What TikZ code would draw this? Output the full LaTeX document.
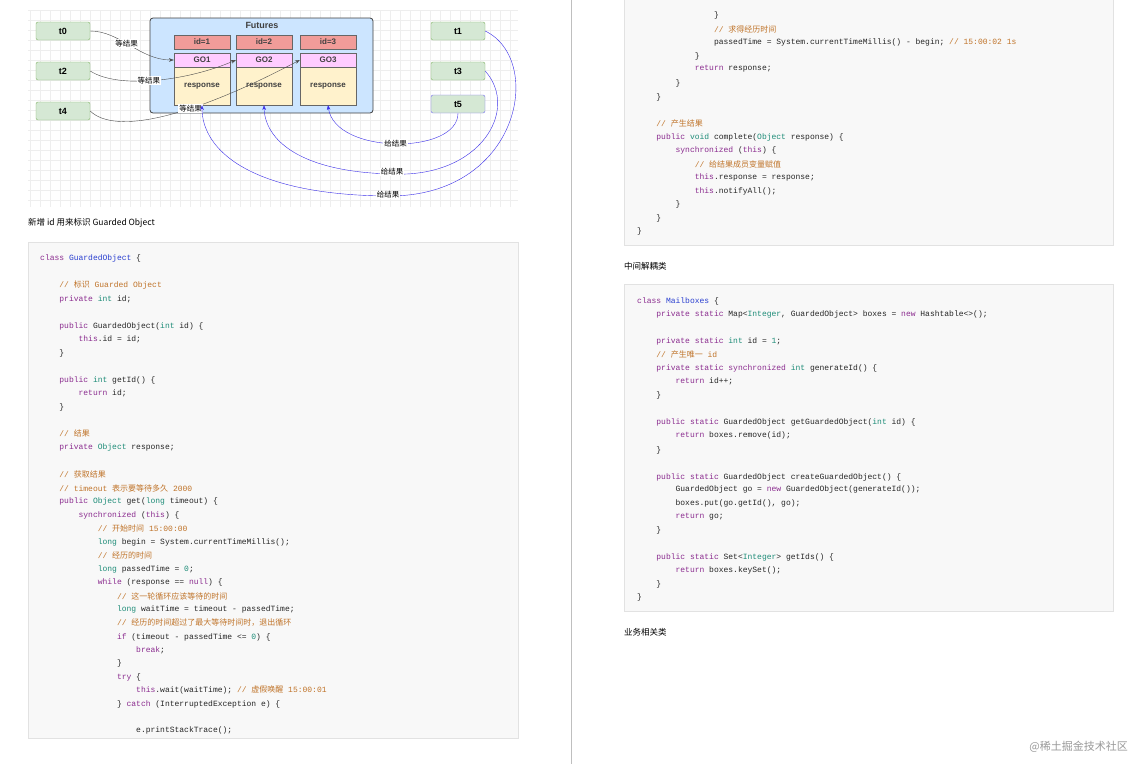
\documentclass[tikz,border=0pt]{standalone}
\usepackage{fontspec}
\setmainfont{Liberation Sans}
\setmonofont{Liberation Mono}
\newfontfamily\cjk{Noto Sans CJK SC}
\usetikzlibrary{arrows.meta}
\definecolor{kwc}{HTML}{8B2C8F}
\definecolor{tyc}{HTML}{1E8C78}
\definecolor{cmc}{HTML}{C0742A}
\definecolor{nmc}{HTML}{2A3FD0}
\definecolor{boxbg}{HTML}{F8F8F8}
\definecolor{boxln}{HTML}{E2E2E2}
\definecolor{gridc}{HTML}{EEEEEE}
\definecolor{futbg}{HTML}{CCE5FF}
\definecolor{idbg}{HTML}{F19C99}
\definecolor{gobg}{HTML}{FFCCFF}
\definecolor{rsbg}{HTML}{FFF2CC}
\definecolor{tbg}{HTML}{D5E8D4}
\definecolor{tln}{HTML}{82B366}
\definecolor{blu}{HTML}{3B2FE8}
\newcommand\kw[1]{\textcolor{kwc}{#1}}
\newcommand\ty[1]{\textcolor{tyc}{#1}}
\newcommand\cmt[1]{\textcolor{cmc}{#1}}
\newcommand\nm[1]{\textcolor{nmc}{#1}}
\newcommand\cn[1]{{\cjk #1}}
\newcommand\cl[5]{\node[code] (#1) at ({#2+19.2*#3},#4) {#5};}
\tikzset{
  code/.style={anchor=west, inner sep=0, text=black!85, font=\ttfamily\fontsize{8}{9}\selectfont},
  caption/.style={anchor=west, inner sep=0, font=\cjk\fontsize{8.5}{10}\selectfont},
  thr/.style={draw=tln, fill=tbg, rounded corners=2, minimum width=54, minimum height=18, inner sep=0, font=\bfseries\fontsize{9}{10}\selectfont},
  cell/.style={draw=black!60, minimum width=56, inner sep=0, font=\bfseries\fontsize{8}{9}\selectfont, text=black!75},
  lbl/.style={fill=white, text=black, inner sep=1, font=\cjk\fontsize{7.5}{8}\selectfont},
  wait/.style={-{Stealth}, black!70, thin},
  give/.style={-{Stealth}, blu, thin}
}
\begin{document}
\begin{tikzpicture}[x=1pt, y=-1pt]
\useasboundingbox (0,0) rectangle (1133,764);
\fill[white] (0,0) rectangle (1133,764);
% diagram
\foreach \gx in {30,40,...,510} \draw[gridc] (\gx,10) -- (\gx,207);
\foreach \gy in {10,20,...,200} \draw[gridc] (28,\gy) -- (518,\gy);
\node (futures) [draw=black!75, fill=futbg, rounded corners=3, thick, minimum width=223, minimum height=95, inner sep=0] at (261.5,65.5) {};
\node (title) [font=\bfseries\fontsize{9}{10}\selectfont, text=black!75] at (262,25) {Futures};
\node (id1) [cell, fill=idbg, minimum height=14] at (202,42) {id=1};
\node (id2) [cell, fill=idbg, minimum height=14] at (264,42) {id=2};
\node (id3) [cell, fill=idbg, minimum height=14] at (328,42) {id=3};
\node (go1) [cell, fill=gobg, minimum height=14] at (202,60) {GO1};
\node (go2) [cell, fill=gobg, minimum height=14] at (264,60) {GO2};
\node (go3) [cell, fill=gobg, minimum height=14] at (328,60) {GO3};
\node (r1) [cell, fill=rsbg, minimum height=38] at (202,86) {response};
\node (r2) [cell, fill=rsbg, minimum height=38] at (264,86) {response};
\node (r3) [cell, fill=rsbg, minimum height=38] at (328,86) {response};
\node (t0) [thr] at (63,31) {t0};
\node (t2) [thr] at (63,71) {t2};
\node (t4) [thr] at (63,111) {t4};
\node (t1) [thr] at (458,31) {t1};
\node (t3) [thr] at (458,71) {t3};
\node (t5) [thr, draw=blu!70] at (458,104) {t5};
\draw[wait] (t0.east) .. controls (120,31) and (140,60) .. node[lbl, pos=0.45] {等结果} (go1.west);
\draw[wait] (t2.east) .. controls (120,90) and (190,80) .. node[lbl, pos=0.45] {等结果} (go2.west);
\draw[wait] (t4.east) .. controls (115,135) and (190,118) .. node[lbl, pos=0.62] {等结果} (go3.west);
\draw[give] (t5.south) .. controls (458,155) and (335,155) .. node[lbl, pos=0.5] {给结果} (r3.south);
\draw[give] (t3.east) .. controls (520,110) and (480,178) .. (392,174) .. controls (300,172) and (265,140) .. (r2.south);
\node (g3) [lbl] at (392,172) {给结果};
\draw[give] (t1.east) .. controls (545,60) and (520,197) .. (388,196) .. controls (250,195) and (202,150) .. (r1.south);
\node (g1) [lbl] at (388,195) {给结果};
% captions, boxes
\node (capa) [caption] at (28,223) {新增 id 用来标识 Guarded Object};
\node (capb) [caption] at (624,266) {中间解耦类};
\node (capc) [caption] at (624,632) {业务相关类};
\draw[black!25] (571,0) -- (571,764);
\draw[boxln, fill=boxbg] (28,242) rectangle (518,738);
\draw[boxln, fill=boxbg] (624,-5) rectangle (1113,245);
\draw[boxln, fill=boxbg] (624,284) rectangle (1113,611);
\node (mark) [anchor=east, inner sep=0, text=black!40, font=\cjk\fontsize{11}{12}\selectfont] at (1128,747) {@稀土掘金技术社区};
% left code
\cl{a1}{40}{0}{258}{\kw{class} \nm{GuardedObject} \{}
\cl{a2}{40}{1}{285}{\cmt{// \cn{标识} Guarded Object}}
\cl{a3}{40}{1}{299}{\kw{private} \ty{int} id;}
\cl{a4}{40}{1}{326}{\kw{public} GuardedObject(\ty{int} id) \{}
\cl{a5}{40}{2}{339}{\kw{this}.id = id;}
\cl{a6}{40}{1}{353}{\}}
\cl{a7}{40}{1}{380}{\kw{public} \ty{int} getId() \{}
\cl{a8}{40}{2}{393}{\kw{return} id;}
\cl{a9}{40}{1}{407}{\}}
\cl{a10}{40}{1}{433}{\cmt{// \cn{结果}}}
\cl{a11}{40}{1}{447}{\kw{private} \ty{Object} response;}
\cl{a12}{40}{1}{474}{\cmt{// \cn{获取结果}}}
\cl{a13}{40}{1}{488}{\cmt{// timeout \cn{表示要等待多久} 2000}}
\cl{a14}{40}{1}{501}{\kw{public} \ty{Object} get(\ty{long} timeout) \{}
\cl{a15}{40}{2}{515}{\kw{synchronized} (\kw{this}) \{}
\cl{a16}{40}{3}{528}{\cmt{// \cn{开始时间} 15:00:00}}
\cl{a17}{40}{3}{542}{\ty{long} begin = System.currentTimeMillis();}
\cl{a18}{40}{3}{555}{\cmt{// \cn{经历的时间}}}
\cl{a19}{40}{3}{569}{\ty{long} passedTime = \ty{0};}
\cl{a20}{40}{3}{582}{\kw{while} (response == \kw{null}) \{}
\cl{a21}{40}{4}{596}{\cmt{// \cn{这一轮循环应该等待的时间}}}
\cl{a22}{40}{4}{609}{\ty{long} waitTime = timeout - passedTime;}
\cl{a23}{40}{4}{623}{\cmt{// \cn{经历的时间超过了最大等待时间时，退出循环}}}
\cl{a24}{40}{4}{637}{\kw{if} (timeout - passedTime <= \ty{0}) \{}
\cl{a25}{40}{5}{650}{\kw{break};}
\cl{a26}{40}{4}{663}{\}}
\cl{a27}{40}{4}{677}{\kw{try} \{}
\cl{a28}{40}{5}{690}{\kw{this}.wait(waitTime); \cmt{// \cn{虚假唤醒} 15:00:01}}
\cl{a29}{40}{4}{704}{\} \kw{catch} (InterruptedException e) \{}
\cl{a30}{40}{5}{730}{e.printStackTrace();}
% right code, top
\cl{b1}{637}{4}{15}{\}}
\cl{b2}{637}{4}{29}{\cmt{// \cn{求得经历时间}}}
\cl{b3}{637}{4}{42}{passedTime = System.currentTimeMillis() - begin; \cmt{// 15:00:02  1s}}
\cl{b4}{637}{3}{56}{\}}
\cl{b5}{637}{3}{69}{\kw{return} response;}
\cl{b6}{637}{2}{83}{\}}
\cl{b7}{637}{1}{97}{\}}
\cl{b8}{637}{1}{123}{\cmt{// \cn{产生结果}}}
\cl{b9}{637}{1}{137}{\kw{public} \ty{void} complete(\ty{Object} response) \{}
\cl{b10}{637}{2}{150}{\kw{synchronized} (\kw{this}) \{}
\cl{b11}{637}{3}{164}{\cmt{// \cn{给结果成员变量赋值}}}
\cl{b12}{637}{3}{177}{\kw{this}.response = response;}
\cl{b13}{637}{3}{191}{\kw{this}.notifyAll();}
\cl{b14}{637}{2}{204}{\}}
\cl{b15}{637}{1}{218}{\}}
\cl{b16}{637}{0}{231}{\}}
% right code, mailboxes
\cl{c1}{637}{0}{301}{\kw{class} \nm{Mailboxes} \{}
\cl{c2}{637}{1}{314}{\kw{private} \kw{static} Map<\ty{Integer}, GuardedObject> boxes = \kw{new} Hashtable<>();}
\cl{c3}{637}{1}{341}{\kw{private} \kw{static} \ty{int} id = \ty{1};}
\cl{c4}{637}{1}{354}{\cmt{// \cn{产生唯一} id}}
\cl{c5}{637}{1}{368}{\kw{private} \kw{static} \kw{synchronized} \ty{int} generateId() \{}
\cl{c6}{637}{2}{381}{\kw{return} id++;}
\cl{c7}{637}{1}{395}{\}}
\cl{c8}{637}{1}{422}{\kw{public} \kw{static} GuardedObject getGuardedObject(\ty{int} id) \{}
\cl{c9}{637}{2}{435}{\kw{return} boxes.remove(id);}
\cl{c10}{637}{1}{450}{\}}
\cl{c11}{637}{1}{477}{\kw{public} \kw{static} GuardedObject createGuardedObject() \{}
\cl{c12}{637}{2}{489}{GuardedObject go = \kw{new} GuardedObject(generateId());}
\cl{c13}{637}{2}{503}{boxes.put(go.getId(), go);}
\cl{c14}{637}{2}{517}{\kw{return} go;}
\cl{c15}{637}{1}{530}{\}}
\cl{c16}{637}{1}{557}{\kw{public} \kw{static} Set<\ty{Integer}> getIds() \{}
\cl{c17}{637}{2}{570}{\kw{return} boxes.keySet();}
\cl{c18}{637}{1}{584}{\}}
\cl{c19}{637}{0}{597}{\}}
\end{tikzpicture}
\end{document}
